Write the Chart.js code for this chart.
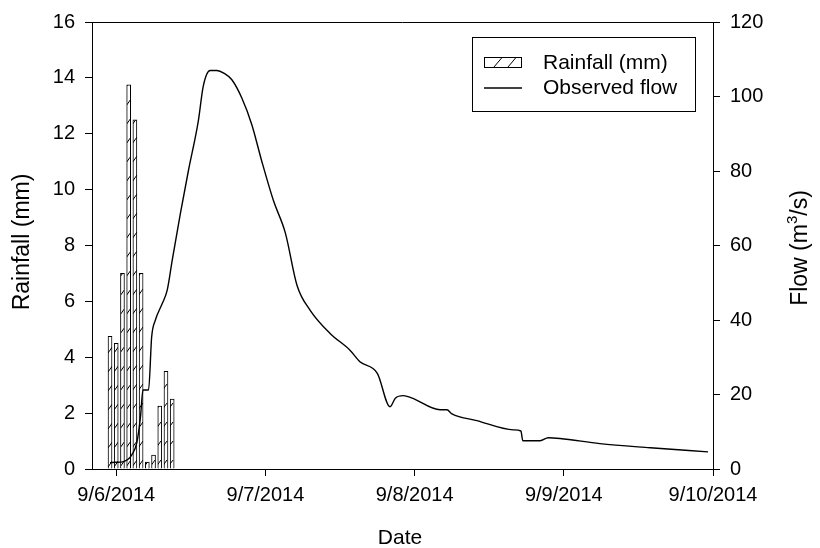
<!DOCTYPE html>
<html>
<head>
<meta charset="utf-8">
<script src="https://cdn.jsdelivr.net/npm/chart.js@4.4.1/dist/chart.umd.min.js"></script>
<style>
html,body{margin:0;padding:0;background:#fff;}
#wrap{width:820px;height:548px;position:relative;}
</style>
</head>
<body>
<div id="wrap"><canvas id="c" width="820" height="548"></canvas></div>
<script>
// hours relative to 9/6/2014 00:00
const rainHours = [-1, 0, 1, 2, 3, 4, 5, 6, 7, 8, 9];
const rainfall  = [4.75, 4.5, 7, 13.75, 12.5, 7, 0.25, 0.5, 2.25, 3.5, 2.5];

const flowHours = [-1, 0, 1, 1.9, 2.5, 3.3, 3.9, 4.3, 5.2, 5.7, 6.3, 7.4, 8.2, 9.0, 10.3, 11.6, 13.2, 14.0, 15.1, 16.2, 17.3, 18.6, 20.2, 21.8, 23.4, 25.3, 27.2, 29.1, 31.2, 34.4, 37.6, 39.2, 42.0, 44.05, 44.9, 46.2, 47.5, 52.1, 53.2, 54.0, 58.0, 63.9, 65.1, 65.4, 68.2, 69.5, 71.4, 77.8, 85.9, 95.2];
const flow      = [1.7, 1.8, 1.9, 2.6, 3.8, 7.0, 14.0, 21.2, 21.2, 35.5, 40.0, 44.4, 48.0, 56.0, 68.4, 80.0, 93.4, 102.8, 107.0, 107.0, 106.3, 104.5, 99.6, 92.5, 82.7, 72.0, 63.4, 49.2, 42.6, 36.4, 31.9, 28.8, 25.7, 16.7, 19.0, 19.7, 19.1, 15.9, 15.9, 14.8, 13.0, 10.5, 10.2, 7.6, 7.6, 8.4, 8.2, 6.8, 5.7, 4.6];

const dateTicks = [0, 24, 48, 72, 96];
const dateLabels = ['9/6/2014', '9/7/2014', '9/8/2014', '9/9/2014', '9/10/2014'];
const rainTicks = [0, 2, 4, 6, 8, 10, 12, 14, 16];
const flowTicks = [0, 20, 40, 60, 80, 100, 120];

const FONT = '"Liberation Sans", Arial, sans-serif';

// hatch pattern
function makePattern() {
  const p = document.createElement('canvas');
  p.width = 6; p.height = 19;
  const g = p.getContext('2d');
  g.fillStyle = '#fff';
  g.fillRect(0, 0, 6, 19);
  g.strokeStyle = '#000';
  g.lineWidth = 1;
  g.beginPath();
  g.moveTo(0, 11);
  g.lineTo(5, 4);
  g.stroke();
  return document.getElementById('c').getContext('2d').createPattern(p, 'repeat');
}
const hatch = makePattern();

const framePlugin = {
  id: 'frame',
  afterDraw(chart) {
    const ctx = chart.ctx;
    const a = chart.chartArea;
    ctx.save();
    ctx.strokeStyle = '#000';
    ctx.lineWidth = 1;
    ctx.beginPath();
    ctx.moveTo(a.left, a.top + 0.5);
    ctx.lineTo(a.right, a.top + 0.5);
    ctx.stroke();

    // legend
    const lx = 472, ly = 37, lw = 223, lh = 74;
    ctx.strokeRect(lx + 0.5, ly + 0.5, lw, lh);
    // hatch box
    ctx.fillStyle = '#fff';
    ctx.fillRect(484, 57, 37, 10);
    ctx.strokeRect(484.5, 57.5, 37, 10);
    ctx.beginPath();
    ctx.moveTo(494, 67); ctx.lineTo(502, 57.5);
    ctx.moveTo(508, 67); ctx.lineTo(516, 57.5);
    ctx.stroke();
    // line
    ctx.lineWidth = 1.5;
    ctx.beginPath();
    ctx.moveTo(484, 88); ctx.lineTo(522, 88);
    ctx.stroke();
    ctx.fillStyle = '#000';
    ctx.font = '21px ' + FONT;
    ctx.textBaseline = 'middle';
    ctx.textAlign = 'left';
    ctx.fillText('Rainfall (mm)', 543, 63);
    ctx.fillText('Observed flow', 543, 88);

    // axis titles
    ctx.font = '21px ' + FONT;
    ctx.textAlign = 'center';
    ctx.fillText('Date', 400, 538);

    ctx.font = '23px ' + FONT;
    ctx.save();
    ctx.translate(23, 242);
    ctx.rotate(-Math.PI / 2);
    ctx.fillText('Rainfall (mm)', 0, 0);
    ctx.restore();

    // Flow (m3/s) with superscript
    ctx.save();
    ctx.translate(801, 248);
    ctx.rotate(-Math.PI / 2);
    const big = '23px ' + FONT, small = '15px ' + FONT;
    ctx.font = big;
    const p1 = 'Flow (m', p3 = '/s)';
    const w1 = ctx.measureText(p1).width;
    const w3 = ctx.measureText(p3).width;
    ctx.font = small;
    const w2 = ctx.measureText('3').width;
    let x = -(w1 + w2 + w3) / 2;
    ctx.textAlign = 'left';
    ctx.font = big;
    ctx.fillText(p1, x, 0);
    ctx.font = small;
    ctx.fillText('3', x + w1, -8);
    ctx.font = big;
    ctx.fillText(p3, x + w1 + w2, 0);
    ctx.restore();
    ctx.restore();
  }
};

new Chart(document.getElementById('c'), {
  data: {
    datasets: [
      {
        type: 'line',
        label: 'Observed flow',
        data: flowHours.map((h, i) => ({ x: h, y: flow[i] })),
        yAxisID: 'y1',
        borderColor: '#000',
        borderWidth: 1.4,
        pointRadius: 0,
        cubicInterpolationMode: 'monotone',
        fill: false,
        order: 1
      },
      {
        type: 'bar',
        label: 'Rainfall (mm)',
        data: rainHours.map((h, i) => ({ x: h, y: rainfall[i] })),
        yAxisID: 'y',
        backgroundColor: hatch,
        borderColor: '#000',
        borderWidth: 1,
        barThickness: 4,
        order: 2
      }
    ]
  },
  options: {
    responsive: false,
    animation: false,
    events: [],
    layout: { padding: { top: 20, left: 0, right: 0, bottom: 0 } },
    plugins: { legend: { display: false }, tooltip: { enabled: false } },
    scales: {
      x: {
        type: 'linear',
        min: -3.9,
        max: 96,
        offset: false,
        afterBuildTicks(s) { s.ticks = dateTicks.map(v => ({ value: v })); },
        afterFit(s) { s.height = 79; },
        ticks: {
          color: '#000',
          font: { family: FONT, size: 20 },
          padding: 7,
          maxRotation: 0,
          autoSkip: false,
          callback(v) { const i = dateTicks.indexOf(v); return i >= 0 ? dateLabels[i] : ''; }
        },
        grid: { offset: false, drawOnChartArea: false, color: '#000', tickLength: 7 },
        border: { display: true, color: '#000', width: 1 }
      },
      y: {
        position: 'left',
        min: 0,
        max: 16,
        afterBuildTicks(s) { s.ticks = rainTicks.map(v => ({ value: v })); },
        afterFit(s) { s.width = 92; },
        ticks: { color: '#000', font: { family: FONT, size: 20 }, padding: 10 },
        grid: { drawOnChartArea: false, color: '#000', tickLength: 7 },
        border: { display: true, color: '#000', width: 1 }
      },
      y1: {
        position: 'right',
        min: 0,
        max: 120,
        afterBuildTicks(s) { s.ticks = flowTicks.map(v => ({ value: v })); },
        afterFit(s) { s.width = 107; },
        ticks: { color: '#000', font: { family: FONT, size: 20 }, padding: 10 },
        grid: { drawOnChartArea: false, color: '#000', tickLength: 7 },
        border: { display: true, color: '#000', width: 1 }
      }
    }
  },
  plugins: [framePlugin]
});
</script>
</body>
</html>
